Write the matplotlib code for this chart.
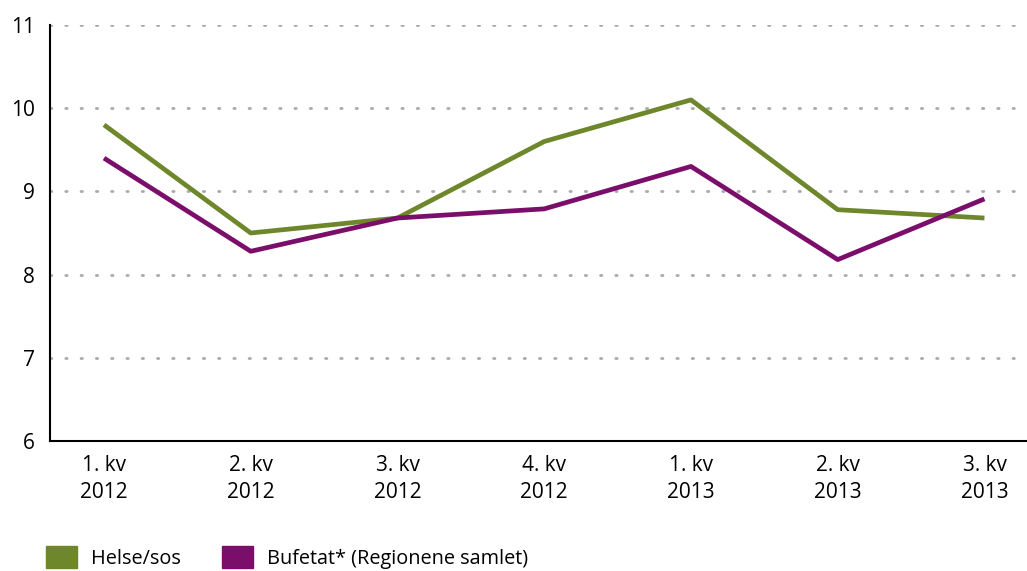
# Kvartalsvis utvikling, Helse/sos vs Bufetat
import matplotlib
matplotlib.use('Agg')
from matplotlib import pyplot as plt
from matplotlib.patches import Patch

plt.rcParams['font.family'] = ['Open Sans', 'DejaVu Sans']

# data
quarters = ['1. kv\n2012', '2. kv\n2012', '3. kv\n2012', '4. kv\n2012',
            '1. kv\n2013', '2. kv\n2013', '3. kv\n2013']
helse_sos = [9.8, 8.5, 8.68, 9.6, 10.1, 8.78, 8.68]
bufetat = [9.4, 8.28, 8.68, 8.79, 9.3, 8.18, 8.91]
series_names = ['Helse/sos', 'Bufetat* (Regionene samlet)']
colors = ['#6f872b', '#7b0d6b']

fig = plt.figure(figsize=(10.27, 5.71), dpi=100)
ax = fig.add_axes([0.0487, 0.2277, 0.9513, 0.7285])

x = list(range(len(quarters)))
ax.plot(x, helse_sos, color=colors[0], lw=3.4, solid_capstyle='butt', zorder=3)
ax.plot(x, bufetat, color=colors[1], lw=3.4, solid_capstyle='butt', zorder=3)

ax.set_ylim(6, 11)
ax.set_yticks(range(6, 12))
ax.set_xlim(-0.368, 6.29)
ax.set_xticks(x)
ax.set_xticklabels(quarters, fontsize=15, linespacing=1.4)
ax.tick_params(axis='both', length=0, labelsize=15)
ax.tick_params(axis='x', pad=10)
ax.tick_params(axis='y', pad=11)

for v in range(7, 12):
    ax.axhline(v, color='#aaaaaa', lw=2, ls=(0, (0.5, 5)), dash_capstyle='round', zorder=1)

for s in ['top', 'right']:
    ax.spines[s].set_visible(False)
ax.spines['left'].set_linewidth(1.5)
ax.spines['bottom'].set_linewidth(1.5)

handles = [Patch(color=c, label=n) for c, n in zip(colors, series_names)]
fig.legend(handles=handles, loc='lower left', bbox_to_anchor=(0.045, 0.004), ncol=2,
           frameon=False, fontsize=14.3, handlelength=1.55, handleheight=1.3,
           handletextpad=0.7, columnspacing=2.1, borderpad=0, borderaxespad=0)

fig.savefig('out.png', dpi=100)
